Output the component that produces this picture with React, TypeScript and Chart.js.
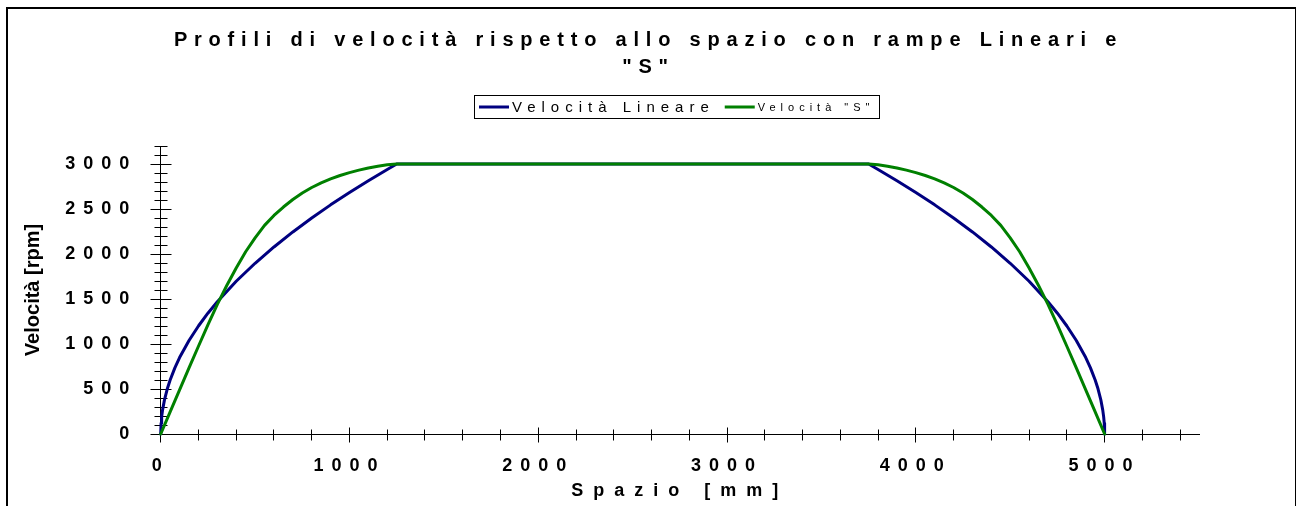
import { useEffect, useRef } from 'react';
import { Chart, registerables } from 'chart.js';

Chart.register(...registerables);

// Text content
const titleLines = ['Profili di velocità rispetto allo spazio con rampe Lineari e', '"S"'];
const xAxisTitle = 'Spazio [mm]';
const yAxisTitle = 'Velocità [rpm]';
const seriesNames = ['Velocità Lineare', 'Velocità "S"'];

// Labelled tick values (minor ticks every 200 mm / 100 rpm)
const xTickLabels = [0, 1000, 2000, 3000, 4000, 5000];
const yTickLabels = [0, 500, 1000, 1500, 2000, 2500, 3000];

// Linear ramp profile: space [mm] and speed [rpm]
const spazioLineare = [
  0, 2, 5, 10, 20, 35, 50, 75, 100, 150, 200, 250, 300, 400, 500, 600, 700, 800, 900, 1000,
  1100, 1200, 1250, 3750, 3800, 3900, 4000, 4100, 4200, 4300, 4400, 4500, 4600, 4700, 4750,
  4800, 4850, 4900, 4925, 4950, 4965, 4980, 4990, 4995, 4998, 5000,
];
const velocitaLineare = [
  0, 120, 190, 268, 379, 502, 600, 735, 849, 1039, 1200, 1342, 1470, 1697, 1897, 2078, 2245,
  2400, 2546, 2683, 2814, 2939, 3000, 3000, 2939, 2814, 2683, 2546, 2400, 2245, 2078, 1897,
  1697, 1470, 1342, 1200, 1039, 849, 735, 600, 502, 379, 268, 190, 120, 0,
];

// "S" ramp profile: space [mm] and speed [rpm]
const spazioS = [
  0, 50, 100, 150, 200, 250, 300, 350, 400, 450, 500, 550, 600, 650, 700, 750, 800, 850, 900,
  950, 1000, 1050, 1100, 1150, 1200, 1250, 3750, 3800, 3850, 3900, 3950, 4000, 4050, 4100,
  4150, 4200, 4250, 4300, 4350, 4400, 4450, 4500, 4550, 4600, 4650, 4700, 4750, 4800, 4850,
  4900, 4950, 5000,
];
const velocitaS = [
  0, 245, 490, 735, 975, 1212, 1440, 1650, 1845, 2025, 2180, 2318, 2428, 2522, 2605, 2677,
  2739, 2791, 2835, 2872, 2904, 2932, 2956, 2976, 2991, 3000, 3000, 2991, 2976, 2956, 2932,
  2904, 2872, 2835, 2791, 2739, 2677, 2605, 2522, 2428, 2318, 2180, 2025, 1845, 1650, 1440,
  1212, 975, 735, 490, 245, 0,
];

// Styling
const FONT = "'Liberation Sans', Arial, Helvetica, sans-serif";
const seriesColors = ['#000080', '#008000'];
const TITLE_SPACING = '6.8px';
const TICK_SPACING = '8px';
const X_TITLE_SPACING = '10px';
const legendFonts = [`15px ${FONT}`, `11px ${FONT}`];
const legendSpacings = ['6px', '5px'];

const toPoints = (xs: number[], ys: number[]) => xs.map((x, i) => ({ x, y: ys[i] }));

// Wraps drawing methods so that their text is rendered with extra letter spacing;
// the title is centred on the whole canvas rather than on the padded layout area
const spacedText = {
  id: 'spacedText',
  afterLayout(chart: any) {
    const apply = (target: any, method: string, spacing: string) => {
      if (!target || target['_spaced_' + method]) return;
      const original = target[method];
      target[method] = function (...args: any[]) {
        const ctx: any = chart.ctx;
        const previous = ctx.letterSpacing;
        ctx.letterSpacing = spacing;
        try {
          return original.apply(this, args);
        } finally {
          ctx.letterSpacing = previous;
        }
      };
      target['_spaced_' + method] = true;
    };
    if (chart.titleBlock) {
      chart.titleBlock.left = 0;
      chart.titleBlock.right = chart.width;
      chart.titleBlock.width = chart.width;
    }
    apply(chart.titleBlock, 'draw', TITLE_SPACING);
    apply(chart.scales.x, 'drawLabels', TICK_SPACING);
    apply(chart.scales.y, 'drawLabels', TICK_SPACING);
    apply(chart.scales.x, 'drawTitle', X_TITLE_SPACING);
  },
};

// Tick marks crossing the axis lines, longer at labelled values
const crossTicks = {
  id: 'crossTicks',
  beforeDatasetsDraw(chart: any) {
    const { ctx, scales } = chart;
    const xs = scales.x;
    const ys = scales.y;
    const axisX = Math.round(xs.getPixelForValue(0) - 0.5) + 0.5;
    const axisY = Math.round(ys.getPixelForValue(0) - 0.5) + 0.5;
    ctx.save();
    ctx.strokeStyle = '#000';
    ctx.lineWidth = 1;
    ctx.beginPath();
    ys.ticks.forEach((t: any) => {
      const y = Math.round(ys.getPixelForValue(t.value) - 0.5) + 0.5;
      const half = t.value % 500 === 0 ? 10 : 6;
      ctx.moveTo(axisX - half, y);
      ctx.lineTo(axisX + half + 1, y);
    });
    xs.ticks.forEach((t: any) => {
      const x = Math.round(xs.getPixelForValue(t.value) - 0.5) + 0.5;
      const half = t.value % 1000 === 0 ? 7 : 5;
      ctx.moveTo(x, axisY - half);
      ctx.lineTo(x, axisY + half + 1);
    });
    ctx.stroke();
    ctx.restore();
  },
};

// Boxed legend above the plot; each entry has its own font size
const boxedLegend = {
  id: 'boxedLegend',
  afterDraw(chart: any) {
    const ctx: any = chart.ctx;
    const area = chart.chartArea;
    const datasets = chart.data.datasets;
    const pad = 5;
    const sample = 30;
    const sampleGap = 3;
    const itemGap = 10;
    const boxHeight = 23;
    ctx.save();
    const widths = datasets.map((ds: any, i: number) => {
      ctx.font = legendFonts[i];
      ctx.letterSpacing = legendSpacings[i];
      return ctx.measureText(ds.label).width;
    });
    const total =
      pad * 2 +
      widths.reduce((a: number, w: number) => a + w + sample + sampleGap, 0) +
      itemGap * (datasets.length - 1);
    const left = Math.round((area.left + area.right) / 2 - total / 2 - 3);
    const top = Math.round(area.top - 51);
    const mid = top + boxHeight / 2;

    ctx.strokeStyle = '#000';
    ctx.lineWidth = 1;
    ctx.strokeRect(left + 0.5, top + 0.5, Math.round(total), boxHeight);

    let x = left + pad;
    datasets.forEach((ds: any, i: number) => {
      ctx.fillStyle = ds.borderColor;
      ctx.fillRect(x, mid - 1, sample, 3);
      x += sample + sampleGap;
      ctx.font = legendFonts[i];
      ctx.letterSpacing = legendSpacings[i];
      ctx.fillStyle = '#000';
      ctx.textAlign = 'left';
      ctx.textBaseline = 'middle';
      ctx.fillText(ds.label, x, mid + 1);
      x += widths[i] + itemGap;
    });
    ctx.restore();
  },
};

// White page with the outer frame
const frame = {
  id: 'frame',
  beforeDraw(chart: any) {
    const { ctx, width, height } = chart;
    ctx.save();
    ctx.fillStyle = '#fff';
    ctx.fillRect(0, 0, width, height);
    ctx.restore();
  },
  afterDraw(chart: any) {
    const { ctx, height } = chart;
    ctx.save();
    ctx.fillStyle = '#000';
    ctx.fillRect(6, 7, 2, height);
    ctx.fillRect(6, 7, 1290, 2);
    ctx.fillRect(1295, 7, 1, height);
    ctx.restore();
  },
};

export default function App() {
  const canvasRef = useRef<HTMLCanvasElement | null>(null);

  useEffect(() => {
    const canvas = canvasRef.current;
    if (!canvas) return;
    const tickFont = { family: FONT, size: 18, weight: 'bold' as const };
    const chart = new Chart(canvas, {
      type: 'line',
      data: {
        datasets: [
          {
            label: seriesNames[0],
            data: toPoints(spazioLineare, velocitaLineare),
            borderColor: seriesColors[0],
            backgroundColor: seriesColors[0],
            borderWidth: 3,
            pointRadius: 0,
            tension: 0,
            borderJoinStyle: 'round',
            borderCapStyle: 'round',
            clip: false,
            order: 1,
          },
          {
            label: seriesNames[1],
            data: toPoints(spazioS, velocitaS),
            borderColor: seriesColors[1],
            backgroundColor: seriesColors[1],
            borderWidth: 3,
            pointRadius: 0,
            tension: 0,
            borderJoinStyle: 'round',
            borderCapStyle: 'round',
            clip: false,
            order: 0,
          },
        ],
      },
      options: {
        animation: false,
        responsive: false,
        devicePixelRatio: 1,
        events: [],
        layout: { padding: { left: 0, right: 98, top: 0, bottom: 0 } },
        plugins: {
          legend: { display: false },
          tooltip: { enabled: false },
          title: {
            display: true,
            text: titleLines,
            color: '#000',
            font: { family: FONT, size: 20, weight: 'bold', lineHeight: 1.35 },
            padding: { top: 26.5, bottom: 65.5 },
          },
        },
        scales: {
          x: {
            type: 'linear',
            min: 0,
            max: 5500,
            afterFit: (scale: any) => {
              scale.height = 72;
            },
            grid: { display: false, drawTicks: false },
            border: { display: true, color: '#000', width: 1 },
            ticks: {
              stepSize: 200,
              includeBounds: false,
              autoSkip: false,
              maxRotation: 0,
              minRotation: 0,
              padding: 21,
              color: '#000',
              font: tickFont,
              callback: (v: any) => (xTickLabels.includes(Number(v)) ? String(v) : ''),
            },
            title: {
              display: true,
              text: xAxisTitle,
              color: '#000',
              font: { family: FONT, size: 18, weight: 'bold' },
              padding: { top: 0, bottom: 4.5 },
            },
          },
          y: {
            type: 'linear',
            min: 0,
            max: 3200,
            afterFit: (scale: any) => {
              scale.width = 160.7;
            },
            grid: { display: false, drawTicks: false },
            border: { display: true, color: '#000', width: 1 },
            ticks: {
              stepSize: 100,
              includeBounds: false,
              autoSkip: false,
              padding: 23.4,
              color: '#000',
              font: tickFont,
              callback: (v: any) => (yTickLabels.includes(Number(v)) ? String(v) : ''),
            },
            title: {
              display: true,
              text: yAxisTitle,
              color: '#000',
              font: { family: FONT, size: 20, weight: 'bold' },
              padding: { top: 21, bottom: 0 },
            },
          },
        },
      },
      plugins: [frame, spacedText, crossTicks, boxedLegend],
    } as any);
    return () => chart.destroy();
  }, []);

  return (
    <div style={{ position: 'absolute', left: 0, top: 0, width: 1297, height: 506, background: '#fff' }}>
      <canvas ref={canvasRef} width={1297} height={506} style={{ display: 'block', width: 1297, height: 506 }} />
    </div>
  );
}
